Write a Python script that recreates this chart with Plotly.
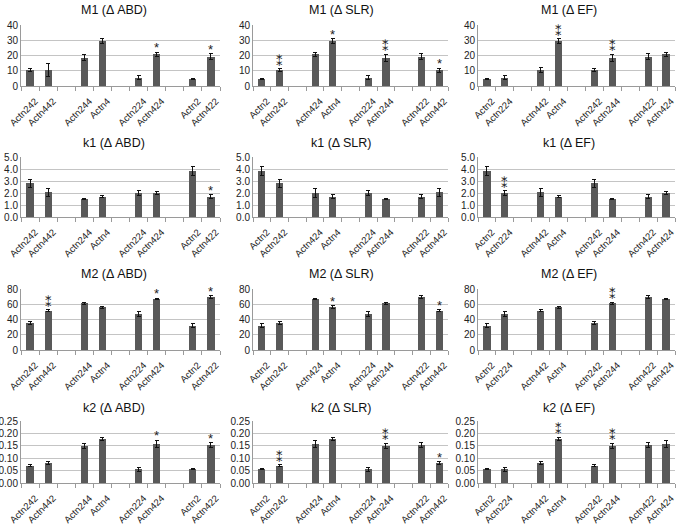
import plotly.graph_objects as go

# ---------------- data ----------------
ORDER_ABD = ["Actn242", "Actn442", "Actn244", "Actn4", "Actn224", "Actn424", "Actn2", "Actn422"]
ORDER_SLR = ["Actn2", "Actn242", "Actn424", "Actn4", "Actn224", "Actn244", "Actn422", "Actn442"]
ORDER_EF = ["Actn2", "Actn224", "Actn442", "Actn4", "Actn242", "Actn244", "Actn422", "Actn424"]

M1_ABD = [10.5, 10.3, 18.6, 29.5, 5.5, 20.8, 4.5, 19.2]
M1_ABD_ERR = [0.9, 4.3, 2.2, 1.5, 1.2, 1.2, 0.4, 2.0]
M1_ABD_STARS = [0, 0, 0, 0, 0, 1, 0, 1]
M1_SLR = [4.5, 10.5, 20.8, 29.5, 5.5, 18.4, 19.2, 10.3]
M1_SLR_ERR = [0.4, 0.9, 1.2, 1.5, 1.2, 2.3, 2.0, 1.5]
M1_SLR_STARS = [0, 2, 0, 1, 0, 2, 0, 1]
M1_EF = [4.5, 5.5, 10.5, 29.5, 10.5, 18.4, 19.2, 20.8]
M1_EF_ERR = [0.4, 1.2, 1.5, 1.5, 0.9, 2.3, 2.0, 1.2]
M1_EF_STARS = [0, 0, 0, 2, 0, 2, 0, 0]

K1_ABD = [2.8, 2.05, 1.5, 1.7, 2.0, 2.0, 3.85, 1.7]
K1_ABD_ERR = [0.35, 0.3, 0.08, 0.08, 0.2, 0.15, 0.35, 0.15]
K1_ABD_STARS = [0, 0, 0, 0, 0, 0, 0, 1]
K1_SLR = [3.85, 2.8, 2.0, 1.7, 2.0, 1.5, 1.7, 2.05]
K1_SLR_ERR = [0.35, 0.35, 0.4, 0.15, 0.2, 0.08, 0.15, 0.3]
K1_SLR_STARS = [0, 0, 0, 0, 0, 0, 0, 0]
K1_EF = [3.85, 2.0, 2.05, 1.7, 2.8, 1.5, 1.7, 2.0]
K1_EF_ERR = [0.35, 0.2, 0.35, 0.08, 0.35, 0.08, 0.15, 0.15]
K1_EF_STARS = [0, 2, 0, 0, 0, 0, 0, 0]

M2_ABD = [35.5, 51.5, 61.0, 56.0, 47.0, 67.0, 32.0, 69.0]
M2_ABD_ERR = [2.0, 1.5, 1.5, 1.2, 3.5, 0.8, 2.5, 2.0]
M2_ABD_STARS = [0, 2, 0, 0, 0, 1, 0, 1]
M2_SLR = [32.0, 35.5, 67.0, 56.0, 47.0, 61.0, 69.0, 51.5]
M2_SLR_ERR = [2.5, 2.0, 0.8, 2.0, 3.5, 1.5, 2.0, 1.5]
M2_SLR_STARS = [0, 0, 0, 1, 0, 0, 0, 1]
M2_EF = [32.0, 47.0, 51.5, 56.0, 35.5, 61.0, 69.0, 67.0]
M2_EF_ERR = [2.5, 3.5, 1.5, 1.2, 2.0, 1.5, 2.0, 0.8]
M2_EF_STARS = [0, 0, 0, 0, 0, 2, 0, 0]

K2_ABD = [0.070, 0.080, 0.150, 0.178, 0.055, 0.158, 0.056, 0.153]
K2_ABD_ERR = [0.003, 0.006, 0.010, 0.006, 0.008, 0.015, 0.002, 0.010]
K2_ABD_STARS = [0, 0, 0, 0, 0, 1, 0, 1]
K2_SLR = [0.056, 0.070, 0.158, 0.178, 0.055, 0.150, 0.153, 0.080]
K2_SLR_ERR = [0.002, 0.003, 0.015, 0.006, 0.008, 0.010, 0.010, 0.006]
K2_SLR_STARS = [0, 2, 0, 0, 0, 2, 0, 1]
K2_EF = [0.056, 0.055, 0.080, 0.178, 0.070, 0.150, 0.153, 0.158]
K2_EF_ERR = [0.002, 0.008, 0.006, 0.006, 0.003, 0.010, 0.010, 0.015]
K2_EF_STARS = [0, 0, 0, 2, 0, 2, 0, 0]

PARAMS = ["M1", "k1", "M2", "k2"]
COLUMNS = ["ABD", "SLR", "EF"]
Y_MAX = [40, 5, 80, 0.25]
Y_STEP = [10, 1, 20, 0.05]
Y_FMT = [".0f", ".1f", ".0f", ".2f"]
STAR_TEXT = {1: "*", 2: "\u2051"}

PANELS = [
    [(ORDER_ABD, M1_ABD, M1_ABD_ERR, M1_ABD_STARS), (ORDER_SLR, M1_SLR, M1_SLR_ERR, M1_SLR_STARS), (ORDER_EF, M1_EF, M1_EF_ERR, M1_EF_STARS)],
    [(ORDER_ABD, K1_ABD, K1_ABD_ERR, K1_ABD_STARS), (ORDER_SLR, K1_SLR, K1_SLR_ERR, K1_SLR_STARS), (ORDER_EF, K1_EF, K1_EF_ERR, K1_EF_STARS)],
    [(ORDER_ABD, M2_ABD, M2_ABD_ERR, M2_ABD_STARS), (ORDER_SLR, M2_SLR, M2_SLR_ERR, M2_SLR_STARS), (ORDER_EF, M2_EF, M2_EF_ERR, M2_EF_STARS)],
    [(ORDER_ABD, K2_ABD, K2_ABD_ERR, K2_ABD_STARS), (ORDER_SLR, K2_SLR, K2_SLR_ERR, K2_SLR_STARS), (ORDER_EF, K2_EF, K2_EF_ERR, K2_EF_STARS)],
]

# ---------------- layout ----------------
W, H = 683, 525
COL_X = [(21, 220), (253, 448), (478, 675)]      # plot area px
COL_CENTER = [114, 341, 569]
ROW_Y = [(25, 86), (157, 217), (289, 350), (421, 483)]
TITLE_Y = [10, 143, 274, 408]

FONT = "Liberation Sans, Arial, sans-serif"
STAR_FONT = "DejaVu Sans, Noto Sans, sans-serif"
BAR_COLOR = "#595959"
GRID = "#c4c4c4"

fig = go.Figure()
annotations = []
layout = {}

idx = 0
for r in range(4):
    for c in range(3):
        idx += 1
        order, vals, errs, stars = PANELS[r][c]
        xs = [i + i // 2 for i in range(len(order))]
        xa = "x" if idx == 1 else f"x{idx}"
        ya = "y" if idx == 1 else f"y{idx}"
        fig.add_trace(go.Bar(
            x=xs, y=vals, width=0.4, marker=dict(color=BAR_COLOR, line=dict(width=0)),
            error_y=dict(type="data", array=errs, visible=True, color="#111111", thickness=1, width=2),
            xaxis=xa, yaxis=ya, showlegend=False, hoverinfo="skip",
        ))
        x0, x1 = COL_X[c]
        y0, y1 = ROW_Y[r]
        n_ticks = int(round(Y_MAX[r] / Y_STEP[r])) + 1
        tv = [k * Y_STEP[r] for k in range(n_ticks)]
        layout["xaxis" if idx == 1 else f"xaxis{idx}"] = dict(
            domain=[x0 / W, x1 / W], anchor=ya, range=[-0.5, 10.5], automargin=False,
            tickmode="array", tickvals=xs, ticktext=order, tickangle=-45,
            tickfont=dict(size=9.5, color="#222222", family=FONT), ticks="",
            ticklabelstandoff=5, ticklabelshift=5,
            showline=True, linecolor="#9a9a9a", linewidth=1, showgrid=False, zeroline=False,
            minor=dict(tickmode="array", tickvals=[k - 0.5 for k in range(12)], ticks="outside",
                       ticklen=4, tickcolor="#9a9a9a", showgrid=False),
            fixedrange=True,
        )
        layout["yaxis" if idx == 1 else f"yaxis{idx}"] = dict(
            domain=[1 - y1 / H, 1 - y0 / H], anchor=xa, range=[0, Y_MAX[r]], automargin=False,
            tickmode="array", tickvals=tv, ticktext=[format(v, Y_FMT[r]) for v in tv],
            tickfont=dict(size=10, color="#222222", family=FONT), ticks="",
            showline=True, linecolor="#9a9a9a", linewidth=1,
            showgrid=True, gridcolor=GRID, gridwidth=1, zeroline=False, fixedrange=True,
        )
        # significance stars
        for i, s in enumerate(stars):
            if s == 0:
                continue
            annotations.append(dict(
                x=xs[i], y=vals[i] + errs[i], xref=xa, yref=ya, text=STAR_TEXT[s],
                showarrow=False, yanchor="bottom", yshift=-4 if s == 1 else -1, borderpad=0,
                font=dict(size=13, color="#222222", family=FONT if s == 1 else STAR_FONT),
            ))
        # title
        annotations.append(dict(
            x=COL_CENTER[c] / W, y=1 - TITLE_Y[r] / H, xref="paper", yref="paper",
            text=f"{PARAMS[r]} (\u0394 {COLUMNS[c]})", showarrow=False,
            xanchor="center", yanchor="middle",
            font=dict(size=12.5, color="#111111", family=FONT),
        ))

fig.update_layout(
    width=W, height=H, margin=dict(l=0, r=0, t=0, b=0, autoexpand=False),
    paper_bgcolor="white", plot_bgcolor="white",
    annotations=annotations, bargap=0, **layout,
)
fig.write_html(
    "out.html",
    config={"displayModeBar": False},
    post_script="document.body.style.margin='0';document.body.style.padding='0';document.body.style.overflow='hidden';",
)
